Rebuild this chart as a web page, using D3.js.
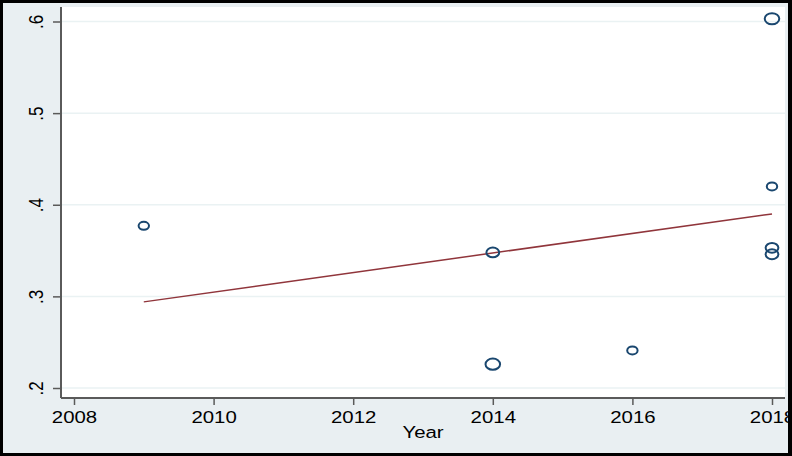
<html>
<head>
<title>Scatter with fit</title>
<script src="https://d3js.org/d3.v7.min.js"></script>
<style>
  body { margin: 0; background: #000; }
  svg { display: block; }
  text { font-family: "Liberation Sans", Arial, sans-serif; fill: #000; }
</style>
</head>
<body>
<svg width="792" height="456"></svg>
<script>
// data
var years   = [2009, 2014, 2014, 2016, 2018, 2018, 2018, 2018];
var values  = [0.377, 0.348, 0.226, 0.241, 0.603, 0.420, 0.353, 0.346];
var weights = [1, 2, 3, 1, 3, 1, 2, 2];
var fitYears  = [2009, 2018];
var fitValues = [0.294, 0.390];
var xTicks = [2008, 2010, 2012, 2014, 2016, 2018];
var yTicks = [0.2, 0.3, 0.4, 0.5, 0.6];
var yLabels = [".2", ".3", ".4", ".5", ".6"];

var svg = d3.select("svg");
var W = 792, H = 456;
var stretch = 1.2;   // picture is wider than tall-font

var plot = { left: 61, right: 785, top: 7, bottom: 398 };

var x = d3.scaleLinear().domain([2008, 2018]).range([74, 772]);
var y = d3.scaleLinear().domain([0.2, 0.6]).range([388, 21.5]);
var r = d3.scaleSqrt().domain([1, 3]).range([4, 5.6]);

// outer region
svg.append("rect").attr("width", W).attr("height", H).attr("fill", "#e9eff2");
svg.append("rect")
  .attr("x", plot.left).attr("y", plot.top)
  .attr("width", plot.right - plot.left).attr("height", plot.bottom - plot.top)
  .attr("fill", "#fff");

// grid
svg.selectAll(".grid").data(yTicks).enter().append("line")
  .attr("x1", plot.left).attr("x2", plot.right)
  .attr("y1", function(d){ return y(d); }).attr("y2", function(d){ return y(d); })
  .attr("stroke", "#eaf2f3").attr("stroke-width", 1.5);

// y axis
var yAxis = svg.append("g").attr("transform", "translate(" + plot.left + ",0)")
  .call(d3.axisLeft(y).tickValues(yTicks).tickSize(8).tickFormat(function(d, i){ return yLabels[i]; }));
yAxis.select(".domain").attr("d", "M0," + plot.top + "V" + plot.bottom)
  .attr("stroke", "#5a5a5a").attr("stroke-width", 2);
yAxis.selectAll(".tick line").attr("stroke", "#5a5a5a").attr("stroke-width", 1.5);
yAxis.selectAll(".tick text").remove();
yAxis.selectAll(".tick").append("text")
  .attr("transform", "translate(-18,0) scale(" + stretch + ",1) rotate(-90)")
  .attr("text-anchor", "middle")
  .attr("font-size", 17)
  .attr("fill", "#000")
  .text(function(d, i){ return yLabels[i]; });

// x axis
var xAxis = svg.append("g").attr("transform", "translate(0," + plot.bottom + ")")
  .call(d3.axisBottom(x).tickValues(xTicks).tickSize(7).tickFormat(d3.format("d")));
xAxis.select(".domain").attr("d", "M" + plot.left + ",0H" + plot.right)
  .attr("stroke", "#5a5a5a").attr("stroke-width", 2);
xAxis.selectAll(".tick line").attr("stroke", "#5a5a5a").attr("stroke-width", 1.5);
xAxis.selectAll(".tick text").remove();
xAxis.selectAll(".tick").append("text")
  .attr("transform", "translate(0,25) scale(" + stretch + ",1)")
  .attr("text-anchor", "middle")
  .attr("font-size", 17)
  .attr("fill", "#000")
  .text(function(d){ return d3.format("d")(d); });

svg.append("text")
  .attr("transform", "translate(" + ((plot.left + plot.right) / 2) + ",438) scale(" + stretch + ",1)")
  .attr("text-anchor", "middle")
  .attr("font-size", 17)
  .text("Year");

// fit line
var fit = fitYears.map(function(d, i){ return [d, fitValues[i]]; });
svg.append("path")
  .datum(fit)
  .attr("d", d3.line().x(function(d){ return x(d[0]); }).y(function(d){ return y(d[1]); }))
  .attr("fill", "none").attr("stroke", "#90353b").attr("stroke-width", 1.5);

// points
svg.selectAll(".pt").data(years).enter().append("ellipse")
  .attr("cx", function(d){ return x(d); })
  .attr("cy", function(d, i){ return y(values[i]); })
  .attr("rx", function(d, i){ return r(weights[i]) * 1.3; })
  .attr("ry", function(d, i){ return r(weights[i]); })
  .attr("fill", "none").attr("stroke", "#1a476f").attr("stroke-width", 2);

// black frame
svg.append("path")
  .attr("d", "M0,0H" + W + "V" + H + "H0Z M3,3V453H788V3Z")
  .attr("fill", "#000").attr("fill-rule", "evenodd");
</script>
</body>
</html>
